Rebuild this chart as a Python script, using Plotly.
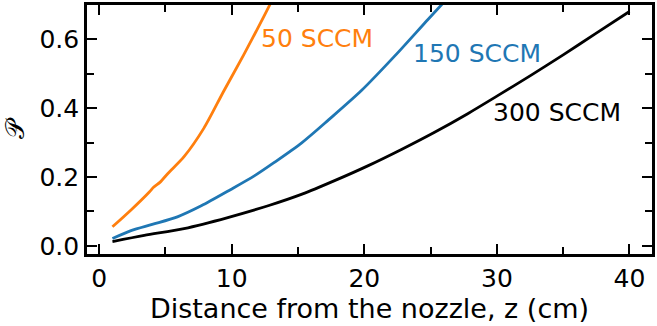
import plotly.graph_objects as go

# Polarization vs. distance from the nozzle for three flow rates
z_50 = [1.0, 2.4, 3.8, 4.1, 4.6, 5.2, 6.4, 7.9, 9.4, 10.9, 12.2, 12.9]
p_50 = [0.055, 0.104, 0.157, 0.170, 0.185, 0.211, 0.259, 0.342, 0.450, 0.555, 0.650, 0.703]

z_150 = [1.0, 2.4, 4.0, 5.9, 7.7, 9.9, 11.7, 13.2, 15.3, 17.3, 19.8, 22.3, 24.8, 25.95]
p_150 = [0.021, 0.044, 0.062, 0.084, 0.116, 0.163, 0.203, 0.242, 0.300, 0.366, 0.452, 0.552, 0.658, 0.706]

z_300 = [1.0, 3.4, 6.4, 9.7, 12.8, 15.3, 17.8, 20.3, 22.8, 25.3, 27.8, 30.0, 32.5, 35.0, 37.5, 40.0]
p_300 = [0.012, 0.030, 0.050, 0.082, 0.117, 0.150, 0.190, 0.233, 0.280, 0.330, 0.384, 0.435, 0.494, 0.555, 0.618, 0.681]

series_names = ["50 SCCM", "150 SCCM", "300 SCCM"]
series_colors = ["#ff7f0e", "#1f77b4", "#000000"]
label_pos = [(16.4, 0.602), (28.5, 0.558), (34.5, 0.388)]

x_ticks = [0, 10, 20, 30, 40]
y_ticks = [0.0, 0.2, 0.4, 0.6]

FONT = "DejaVu Sans"

fig = go.Figure()
for zs, ps, name, color in zip([z_50, z_150, z_300], [p_50, p_150, p_300], series_names, series_colors):
    fig.add_trace(go.Scatter(x=zs, y=ps, mode="lines", name=name,
                             line=dict(color=color, width=2.8, shape="spline", smoothing=0.8),
                             showlegend=False))

for name, color, (lx, ly) in zip(series_names, series_colors, label_pos):
    fig.add_annotation(x=lx, y=ly, text=name, showarrow=False,
                       font=dict(family=FONT, size=25, color=color),
                       xanchor="center", yanchor="middle")

axis_common = dict(
    showgrid=False, zeroline=False, showline=True, linecolor="black", linewidth=2.6,
    mirror="allticks", ticks="inside", ticklen=10, tickwidth=2.4, tickcolor="black",
    tickfont=dict(family=FONT, size=25, color="black"),
)

fig.update_xaxes(
    range=[-0.92, 41.7], tickvals=x_ticks, ticktext=[str(v) for v in x_ticks],
    minor=dict(ticks="inside", ticklen=7, tickwidth=2.0, tickcolor="black", dtick=5, tick0=0),
    title=dict(text="Distance from the nozzle, z (cm)", font=dict(family=FONT, size=27, color="black"),
               standoff=2),
    **axis_common,
)
fig.update_yaxes(
    range=[-0.024, 0.70], tickvals=y_ticks, ticktext=[f"{v:.1f}" for v in y_ticks],
    minor=dict(ticks="inside", ticklen=7, tickwidth=2.0, tickcolor="black", dtick=0.1, tick0=0),
    title=dict(text="𝒫", font=dict(family=FONT, size=26, color="black"), standoff=14),
    **axis_common,
)

fig.update_layout(
    width=657, height=326,
    margin=dict(l=87, r=2, t=4, b=72),
    plot_bgcolor="white", paper_bgcolor="white",
)

fig.write_html("out.html")
